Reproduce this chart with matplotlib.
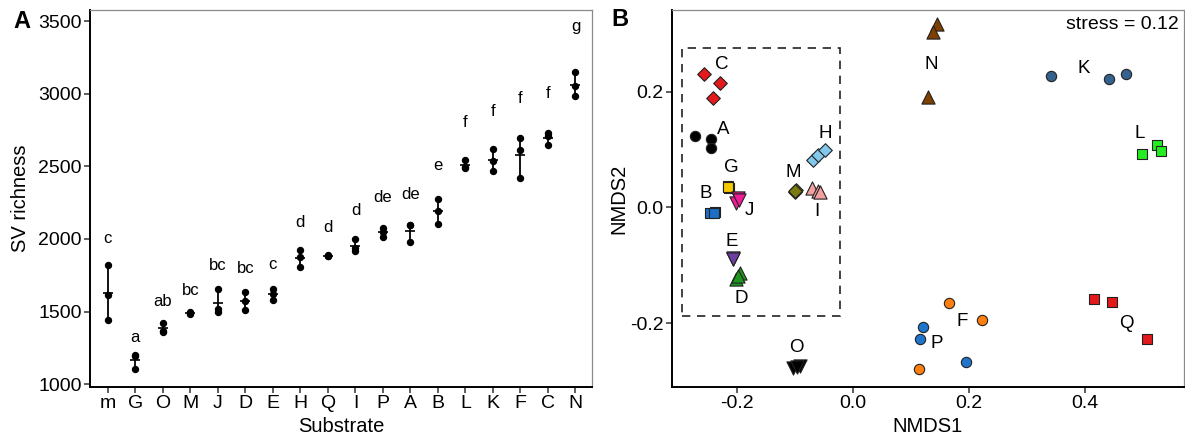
import matplotlib
matplotlib.use("Agg")
import matplotlib.pyplot as plt
from matplotlib.patches import Rectangle
import numpy as np

plt.rcParams['font.family'] = ['Liberation Sans', 'DejaVu Sans']
plt.rcParams['axes.unicode_minus'] = False

# ---- panel A: SV richness per substrate (3 replicates each)
substrates = ['m', 'G', 'O', 'M', 'J', 'D', 'E', 'H', 'Q', 'I', 'P', 'A', 'B', 'L', 'K', 'F', 'C', 'N']
richness = [
    [1819, 1612, 1443],
    [1200, 1196, 1103],
    [1424, 1368, 1362],
    [1495, 1488, 1484],
    [1654, 1518, 1495],
    [1633, 1571, 1512],
    [1658, 1622, 1578],
    [1922, 1874, 1810],
    [1888, 1885, 1882],
    [1998, 1936, 1920],
    [2078, 2046, 2012],
    [2099, 2095, 1980],
    [2278, 2193, 2103],
    [2546, 2498, 2489],
    [2617, 2539, 2470],
    [2697, 2615, 2420],
    [2729, 2709, 2647],
    [3149, 3053, 2984],
]
sig_letters = ['c', 'a', 'ab', 'bc', 'bc', 'bc', 'c', 'd', 'd', 'd', 'de', 'de', 'e', 'f', 'f', 'f', 'f', 'g']

# ---- panel B: NMDS ordination
groups = ['C', 'A', 'G', 'J', 'B', 'E', 'D', 'H', 'M', 'I', 'N', 'K', 'L', 'Q', 'F', 'P', 'O']
nmds1 = [
    [-0.257, -0.229, -0.241],
    [-0.272, -0.245, -0.245],
    [-0.215, -0.214, -0.215],
    [-0.199, -0.202, -0.197],
    [-0.247, -0.238, -0.240],
    [-0.207, -0.206, -0.207],
    [-0.195, -0.202, -0.199],
    [-0.068, -0.060, -0.048],
    [-0.100, -0.099, -0.100],
    [-0.071, -0.060, -0.057],
    [0.145, 0.139, 0.130],
    [0.341, 0.441, 0.472],
    [0.499, 0.524, 0.532],
    [0.416, 0.447, 0.508],
    [0.166, 0.222, 0.114],
    [0.121, 0.115, 0.195],
    [-0.103, -0.091, -0.097],
]
nmds2 = [
    [0.231, 0.214, 0.188],
    [0.123, 0.118, 0.102],
    [0.036, 0.033, 0.035],
    [0.016, 0.007, 0.012],
    [-0.010, -0.008, -0.009],
    [-0.090, -0.088, -0.089],
    [-0.113, -0.124, -0.118],
    [0.082, 0.090, 0.099],
    [0.027, 0.030, 0.028],
    [0.033, 0.029, 0.027],
    [0.317, 0.302, 0.190],
    [0.227, 0.222, 0.231],
    [0.092, 0.108, 0.097],
    [-0.158, -0.164, -0.228],
    [-0.166, -0.195, -0.280],
    [-0.207, -0.228, -0.267],
    [-0.278, -0.274, -0.276],
]
label_x = [-0.226, -0.224, -0.209, -0.179, -0.253, -0.209, -0.193, -0.048, -0.103, -0.062,
           0.136, 0.399, 0.495, 0.472, 0.188, 0.144, -0.098]
label_y = [0.247, 0.134, 0.069, -0.005, 0.023, -0.059, -0.157, 0.127, 0.060, -0.008,
           0.247, 0.240, 0.128, -0.200, -0.198, -0.235, -0.242]
stress = 0.12

colors = ['#E3191C', '#000000', '#F5C800', '#F01C96', '#1C6FC4', '#6E3FA0', '#1E961E', '#82C8EA',
          '#7A7A10', '#F2A0A0', '#7F3F00', '#35618E', '#22EE22', '#E3191C', '#FF7F0E', '#1F74CC', '#000000']
markers = ['D', 'o', 's', 'v', 's', 'v', '^', 'D', 'D', '^', '^', 'o', 's', 's', 'o', 'o', 'v']
msize = {'o': 55, 's': 50, 'D': 48, '^': 90, 'v': 90}

fig = plt.figure(figsize=(11.85, 4.41), dpi=100)
axA = fig.add_axes([90 / 1185, 54 / 441, 502 / 1185, 377 / 441])
axB = fig.add_axes([671.7 / 1185, 54 / 441, 512 / 1185, 377 / 441])


def style_axes(ax):
    for s in ['left', 'bottom']:
        ax.spines[s].set_color('black')
        ax.spines[s].set_linewidth(1.4)
    for s in ['top', 'right']:
        ax.spines[s].set_color('#8a8a8a')
        ax.spines[s].set_linewidth(0.9)
    ax.tick_params(direction='out', length=4, width=1.1, color='#333333', labelsize=14, pad=2)


# panel A
xpos = np.arange(len(substrates))
for i, vals in enumerate(richness):
    vals = np.array(vals)
    axA.vlines(i, vals.min(), vals.max(), color='black', lw=1.3)
    axA.plot([i] * len(vals), vals, 'o', color='black', ms=4.3)
    axA.plot(i, vals.mean(), marker='_', color='black', ms=7, mew=1.2)
    axA.text(i, vals.max() * 1.1, sig_letters[i], ha='center', va='center', fontsize=12)
axA.set_xticks(xpos)
axA.set_xticklabels(substrates)
axA.set_yticks(np.arange(1000, 3501, 500))
axA.set_xlim(-0.65, len(substrates) - 1 + 0.6)
axA.set_ylim(980, 3578)
axA.set_xlabel('Substrate', fontsize=14.5)
axA.set_ylabel('SV richness', fontsize=14.5)
axA.xaxis.set_label_coords(0.5, -0.08)
axA.yaxis.set_label_coords(-0.12, 0.5)
style_axes(axA)

# panel B
axB.add_patch(Rectangle((-0.294, -0.188), 0.272, 0.464, fill=False, ls=(0, (5, 4)),
                        lw=1.2, edgecolor='#222222'))
for g, xs, ys, c, m, lx, ly in zip(groups, nmds1, nmds2, colors, markers, label_x, label_y):
    axB.scatter(xs, ys, s=msize[m], c=c, marker=m, edgecolors='#222222', linewidths=0.8, zorder=3)
    axB.text(lx, ly, g, ha='center', va='center', fontsize=13.5)
axB.text(0.99, 0.985, 'stress = %.2f' % stress, transform=axB.transAxes, ha='right', va='top', fontsize=14)
axB.set_xticks([-0.2, 0.0, 0.2, 0.4])
axB.set_yticks([-0.2, 0.0, 0.2])
axB.set_xlim(-0.3126, 0.5707)
axB.set_ylim(-0.3104, 0.3408)
axB.set_xlabel('NMDS1', fontsize=14.5)
axB.set_ylabel('NMDS2', fontsize=14.5)
axB.xaxis.set_label_coords(0.5, -0.08)
axB.yaxis.set_label_coords(-0.085, 0.5)
style_axes(axB)

fig.text(22 / 1185, 1 - 22 / 441, 'A', fontsize=17, fontweight='bold', ha='center', va='center')
fig.text(620 / 1185, 1 - 20 / 441, 'B', fontsize=17, fontweight='bold', ha='center', va='center')

fig.savefig('out.png', dpi=100)
